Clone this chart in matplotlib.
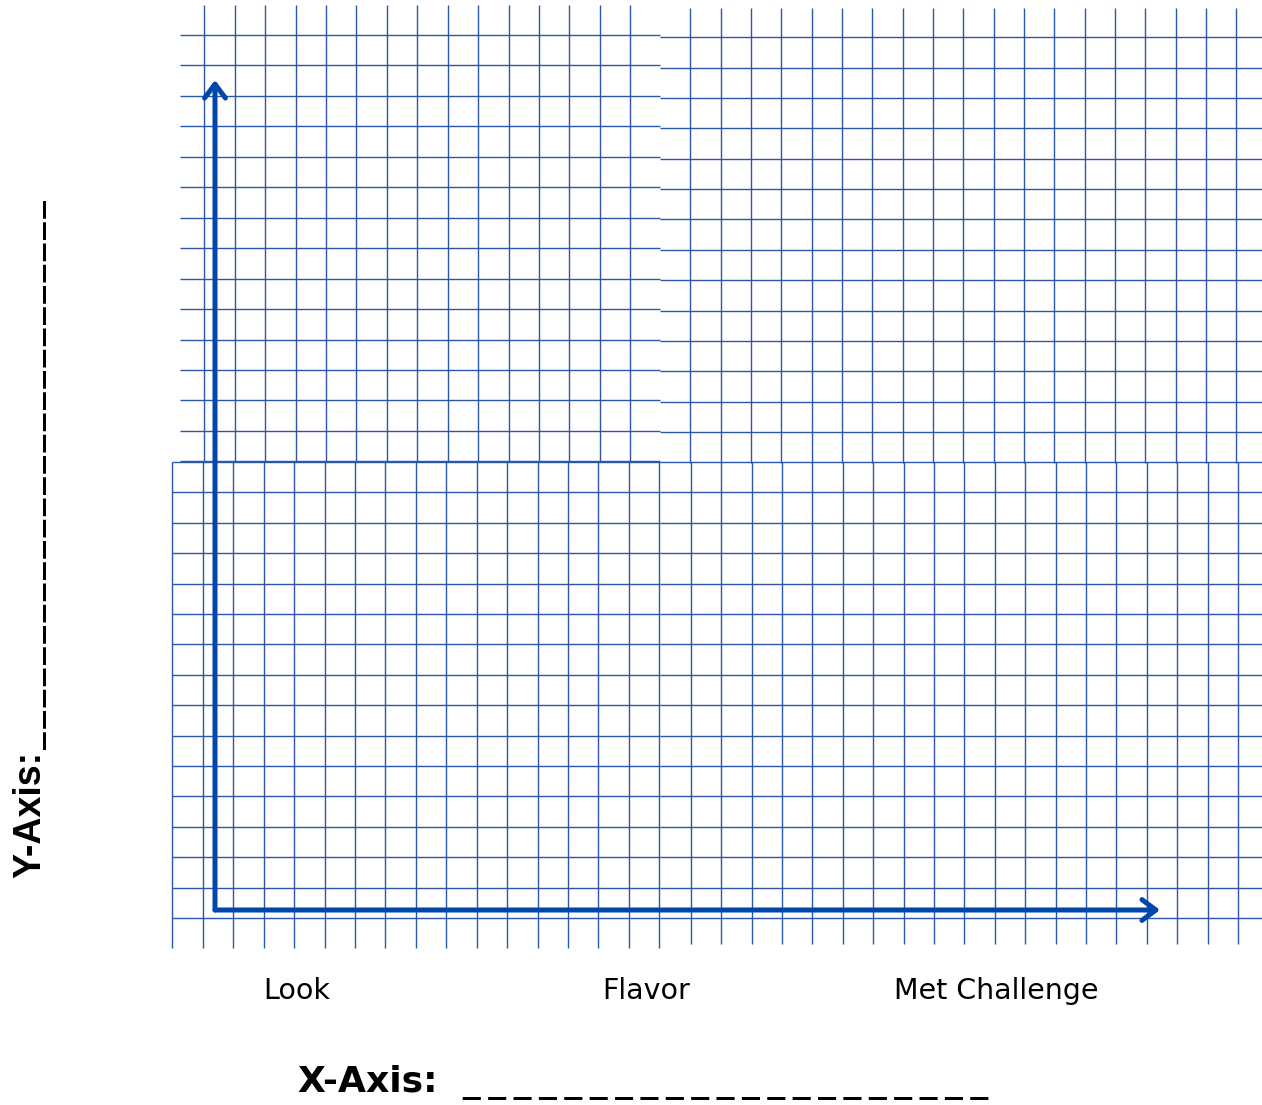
import numpy as np
import matplotlib
matplotlib.use('Agg')
import matplotlib.pyplot as plt

# blank graph template: three categories on x, nothing plotted yet
categories = ['Look', 'Flavor', 'Met Challenge']
cat_pos = [0, 1, 2]
x_title = 'X-Axis:  ' + '\u2009'.join(['_'] * 21)
y_title = 'Y-Axis:'
y_blank = '\u200a'.join(['_'] * 26)

W, H = 1262, 1105
grid_col = '#2B57A8'
arrow_col = '#0047AB'

fig = plt.figure(figsize=(W / 100, H / 100), dpi=100)

# graph paper background, made of four slightly offset tiles (pixel coords)
bg = fig.add_axes([0, 0, 1, 1])
bg.set_xlim(0, W)
bg.set_ylim(H, 0)
bg.axis('off')

def tile(x0, dx, nx, y0, dy, ny, xr, yr):
    xs = x0 + dx * np.arange(nx)
    ys = y0 + dy * np.arange(ny)
    bg.vlines(xs, yr[0], yr[1], color=grid_col, lw=1.0)
    bg.hlines(ys, xr[0], xr[1], color=grid_col, lw=1.0)

tile(204.3, 30.43, 15, 35.0, 30.45, 15, (180, 660), (5, 462))
tile(690.3, 30.33, 19, 37.3, 30.36, 15, (660, 1262), (8, 463))
tile(172.3, 30.44, 17, 462.0, 30.40, 16, (172, 660), (462, 947.7))
tile(690.7, 30.40, 19, 492.4, 30.40, 15, (660, 1262), (462, 944))

# main axes between the arrow origin and the arrow tips
ox, oy, tx, ty = 215, 910, 1160, 80
ax = fig.add_axes([ox / W, 1 - oy / H, (tx - ox) / W, (oy - ty) / H])
ax.patch.set_alpha(0)
for s in ax.spines.values():
    s.set_visible(False)
ax.set_xlim(-0.235, 2.47)
ax.set_ylim(0, 1)
ax.set_xticks(cat_pos, categories, fontsize=20.5, family='DejaVu Sans')
ax.set_yticks([])
ax.tick_params(axis='x', length=0, pad=48)

arrow = dict(arrowstyle='->,head_length=1.0,head_width=0.75', lw=3.6,
             color=arrow_col, shrinkA=0, shrinkB=0, mutation_scale=10)
ax.annotate('', xy=(1, 0), xytext=(0, 0), xycoords='axes fraction', arrowprops=arrow)
ax.annotate('', xy=(0, 1), xytext=(0, 0), xycoords='axes fraction', arrowprops=arrow)

fig.text(298 / W, 1 - 1082 / H, x_title, fontsize=26, weight='bold',
         family=['DejaVu Sans'], ha='left', va='center')
fig.text(30 / W, 1 - 878 / H, y_title, fontsize=27, weight='bold',
         family=['Liberation Sans'], rotation=90, ha='center', va='bottom')
# the blank after the y title, in a font with heavier underscores
fig.text(30 / W, 1 - 749 / H, y_blank, fontsize=25.5, weight='bold',
         family=['DejaVu Sans'], rotation=90, ha='center', va='bottom')

fig.savefig('out.png', dpi=100)
